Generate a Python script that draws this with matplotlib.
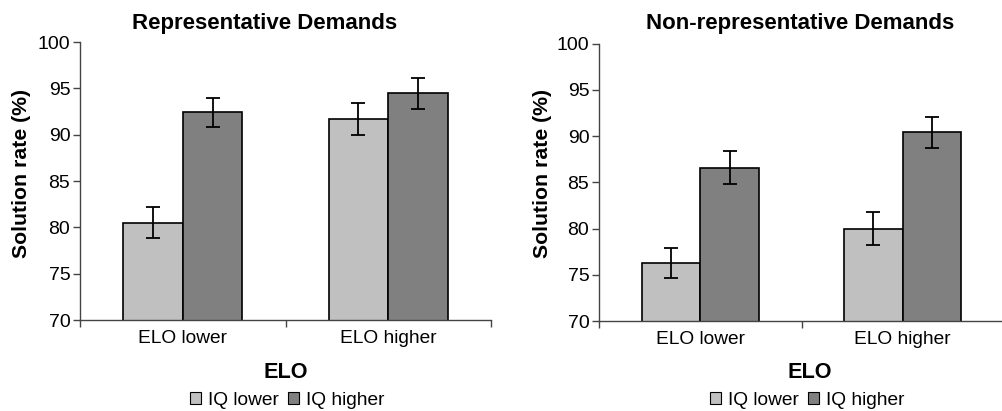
import matplotlib
matplotlib.use("Agg")
import matplotlib.pyplot as plt
from matplotlib.patches import Patch
import numpy as np

plt.rcParams['font.family'] = ['Liberation Sans', 'DejaVu Sans']

categories = ["ELO lower", "ELO higher"]
series_names = ["IQ lower", "IQ higher"]
colors = ["#c0c0c0", "#808080"]

rep_iq_lower = [80.5, 91.7]
rep_iq_higher = [92.4, 94.45]
rep_err_lower = [1.65, 1.75]
rep_err_higher = [1.6, 1.65]

non_iq_lower = [76.3, 80.0]
non_iq_higher = [86.6, 90.4]
non_err_lower = [1.65, 1.75]
non_err_higher = [1.75, 1.65]

titles = ["Representative Demands", "Non-representative Demands"]
yticks = [70, 75, 80, 85, 90, 95, 100]

W, H = 1002, 411
fig = plt.figure(figsize=(W / 100, H / 100), dpi=100)

def px_axes(x0, x1, ytop, ybot):
    return fig.add_axes([x0 / W, 1 - ybot / H, (x1 - x0) / W, (ybot - ytop) / H])

panels = [
    dict(ax=px_axes(80, 491, 42, 320), lo=rep_iq_lower, hi=rep_iq_higher,
         elo=rep_err_lower, ehi=rep_err_higher, title=titles[0],
         tx=265, ylx=22, xlx=286, legx=287),
    dict(ax=px_axes(599, 1004, 43.7, 321), lo=non_iq_lower, hi=non_iq_higher,
         elo=non_err_lower, ehi=non_err_higher, title=titles[1],
         tx=800, ylx=542, xlx=810, legx=807),
]

spine_col = "#444444"
bw = 0.29
tick_fs = 14
for p in panels:
    ax = p['ax']
    x = np.arange(len(categories)) + 0.5
    ax.bar(x - bw / 2, p['lo'], width=bw, bottom=0, color=colors[0],
           edgecolor="black", linewidth=1.2, zorder=2)
    ax.bar(x + bw / 2, p['hi'], width=bw, bottom=0, color=colors[1],
           edgecolor="black", linewidth=1.2, zorder=2)
    ax.errorbar(x - bw / 2, p['lo'], yerr=p['elo'], fmt='none', ecolor='black',
                elinewidth=1.3, capsize=4.8, capthick=1.3, zorder=3)
    ax.errorbar(x + bw / 2, p['hi'], yerr=p['ehi'], fmt='none', ecolor='black',
                elinewidth=1.3, capsize=4.8, capthick=1.3, zorder=3)
    ax.set_xlim(0, 2)
    ax.set_ylim(70, 100)
    ax.set_yticks(yticks)
    ax.set_yticklabels([str(v) for v in yticks], fontsize=tick_fs)
    ax.set_xticks([0, 1, 2])
    ax.set_xticklabels([])
    ax.set_xticks(x, minor=True)
    ax.set_xticklabels(categories, minor=True, fontsize=13.8)
    ax.tick_params(axis='x', which='minor', length=0, pad=7)
    ax.tick_params(axis='x', which='major', length=5, width=1, color=spine_col, direction='out')
    ax.tick_params(axis='y', length=5, width=1, color=spine_col, direction='out', pad=2)
    for s in ['top', 'right']:
        ax.spines[s].set_visible(False)
    for s in ['left', 'bottom']:
        ax.spines[s].set_color(spine_col)
        ax.spines[s].set_linewidth(1.0)
    fig.text(p['tx'] / W, 1 - 23 / H, p['title'], fontsize=16, fontweight='bold',
             ha='center', va='center')
    fig.text(p['ylx'] / W, 1 - 173 / H, "Solution rate (%)", fontsize=15.3,
             fontweight='bold', rotation=90, ha='center', va='center')
    fig.text(p['xlx'] / W, 1 - 372 / H, "ELO",
             fontsize=15.6, fontweight='bold', ha='center', va='center')
    handles = [Patch(facecolor=colors[i], edgecolor='black', linewidth=0.8, label=series_names[i])
               for i in range(2)]
    fig.legend(handles=handles, loc='center', bbox_to_anchor=(p['legx'] / W, 1 - 400.5 / H),
               ncol=2, frameon=False, fontsize=13.8, handlelength=0.6, handleheight=0.6,
               handletextpad=0.35, columnspacing=0.45, borderpad=0, borderaxespad=0)

fig.savefig("out.png", dpi=100)
